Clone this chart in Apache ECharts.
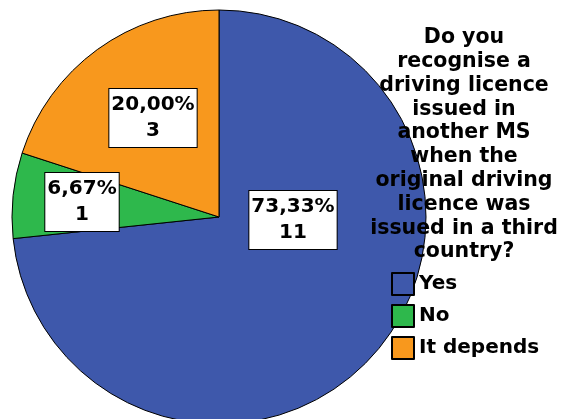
<!DOCTYPE html>
<html>
<head>
<meta charset="utf-8">
<script src="https://cdn.jsdelivr.net/npm/echarts@6/dist/echarts.min.js"></script>
<style>html,body{margin:0;padding:0;background:#fff}#c{width:563px;height:419px}</style>
</head>
<body>
<div id="c"></div>
<script>
const categories = ['Yes', 'No', 'It depends'];
const counts = [11, 1, 3];
const colors = ['#3e58ab', '#2eb84c', '#f8981d'];
const titleText = 'Do you\nrecognise a\ndriving licence\nissued in\nanother MS\nwhen the\noriginal driving\nlicence was\nissued in a third\ncountry?';

const CX = 219, CY = 217, R = 207;
const labelOffsets = [[74, 3], [-137, -15], [-66, -99]];
const FONT = '"DejaVu Sans", sans-serif';

const chart = echarts.init(document.getElementById('c'), null, {renderer: 'canvas'});
chart.setOption({
  animation: false,
  backgroundColor: '#fff',
  title: {
    text: titleText,
    left: 464, top: 26, textAlign: 'center', padding: 0,
    textStyle: {fontFamily: FONT, fontWeight: 'bold', fontSize: 20.5, lineHeight: 23.8, color: '#000'}
  },
  legend: {
    orient: 'vertical', left: 391, top: 272, padding: 0,
    itemWidth: 22, itemHeight: 22, itemGap: 8,
    icon: 'rect',
    data: categories,
    textStyle: {fontFamily: FONT, fontWeight: 'bold', fontSize: 20, color: '#000'}
  },
  series: [{
    type: 'pie',
    center: [CX, CY],
    radius: R,
    startAngle: 90,
    clockwise: true,
    avoidLabelOverlap: false,
    silent: true,
    itemStyle: {borderColor: '#000', borderWidth: 1},
    label: {
      show: true,
      position: 'inside',
      formatter: p => p.percent.toFixed(2).replace('.', ',') + '%\n' + p.value,
      fontFamily: FONT, fontWeight: 'bold', fontSize: 20, lineHeight: 26,
      color: '#000', backgroundColor: '#fff', borderColor: '#000', borderWidth: 1,
      padding: [3, 2, 3, 2], align: 'center'
    },
    labelLine: {show: false},
    labelLayout: p => {
      const o = labelOffsets[p.dataIndex];
      return {x: CX + o[0], y: CY + o[1], align: 'center', verticalAlign: 'middle'};
    },
    data: categories.map((c, i) => ({name: c, value: counts[i], itemStyle: {color: colors[i]}}))
  }]
});
</script>
</body>
</html>
